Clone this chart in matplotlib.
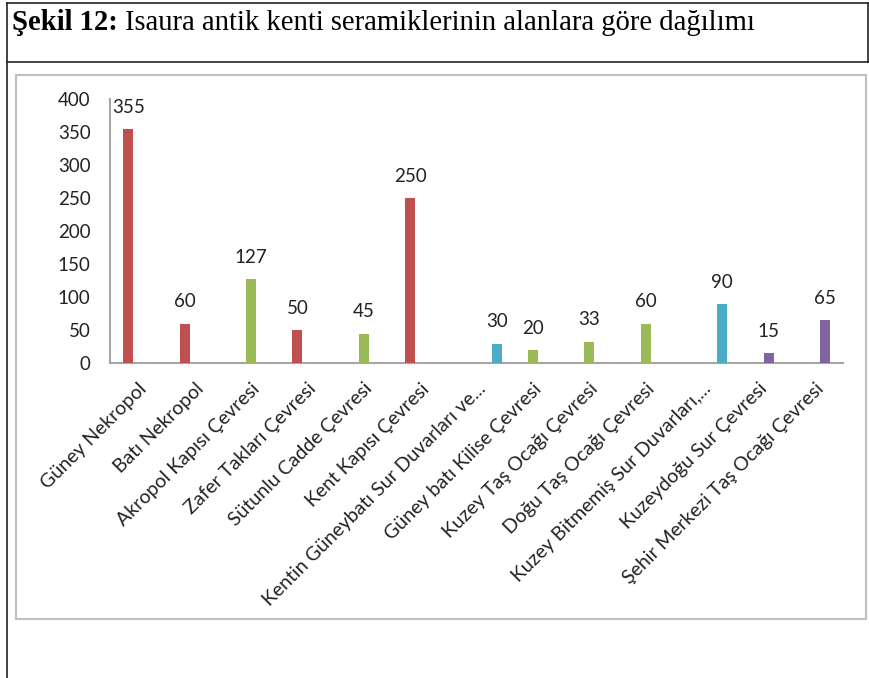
import matplotlib
matplotlib.use("Agg")
import matplotlib.pyplot as plt
from matplotlib.patches import Rectangle
from matplotlib.lines import Line2D
from matplotlib.transforms import ScaledTranslation
import numpy as np

categories = ["Güney Nekropol", "Batı Nekropol", "Akropol Kapısı Çevresi",
              "Zafer Takları Çevresi", "Sütunlu Cadde Çevresi", "Kent Kapısı Çevresi",
              "Kentin Güneybatı Sur Duvarları ve...", "Güney batı Kilise Çevresi",
              "Kuzey Taş Ocağı Çevresi", "Doğu Taş Ocağı Çevresi",
              "Kuzey Bitmemiş Sur Duvarları,...", "Kuzeydoğu Sur Çevresi",
              "Şehir Merkezi Taş Ocağı Çevresi"]
values = [355, 60, 127, 50, 45, 250, 30, 20, 33, 60, 90, 15, 65]
series = ["red", "red", "green", "red", "green", "red", "blue", "green",
          "green", "green", "blue", "purple", "purple"]
yticks = [0, 50, 100, 150, 200, 250, 300, 350, 400]
title_bold = "Şekil 12:"
title_rest = " Isaura antik kenti seramiklerinin alanlara göre dağılımı"

colors = {"red": "#C0504D", "green": "#9BBB59", "purple": "#8064A2", "blue": "#4BACC6"}
slot = {"red": -1, "green": 0, "purple": 1, "blue": 2}
bw = 0.177

fig = plt.figure(figsize=(8.7, 6.78), dpi=100)
W, H = 870, 678

def fx(x): return x / W
def fy(y): return 1 - y / H

# outer frame lines (black)
for (x0, y0, x1, y1) in [(7, 3, 870, 3), (7, 62, 870, 62), (7, 3, 7, 678), (868, 3, 868, 62)]:
    fig.add_artist(Line2D([fx(x0), fx(x1)], [fy(y0), fy(y1)], color="#222222", lw=1.2,
                          transform=fig.transFigure))

# chart area border (grey)
fig.add_artist(Rectangle((fx(16), fy(619)), fx(866.5) - fx(16), fy(75) - fy(619),
                         transform=fig.transFigure, fill=False, edgecolor="#BFBFBF", lw=1.5))

# title
tb = fig.text(fx(12), fy(23), title_bold, fontfamily="Liberation Serif", fontweight="bold",
              fontsize=20.6, va="center", ha="left")
fig.canvas.draw()
bb = tb.get_window_extent()
fig.text(bb.x1 / W, fy(23), title_rest, fontfamily="Liberation Serif",
         fontsize=20.6, va="center", ha="left")

ax = fig.add_axes([fx(110), fy(363.3), fx(843.3) - fx(110), (363.3 - 99.3) / H])
x = np.arange(len(categories))
for i, (v, s) in enumerate(zip(values, series)):
    xp = x[i] + slot[s] * bw
    ax.bar(xp, v, width=bw, color=colors[s], zorder=3)
    ax.text(xp, v + 33, str(v), ha="center", va="center", fontsize=13.5,
            fontfamily="Lato", color="#222222")

ax.set_xlim(-0.5, len(categories) - 0.5)
ax.set_ylim(0, 400)
ax.set_yticks(yticks)
ax.set_yticklabels([str(t) for t in yticks], fontsize=13.5, fontfamily="Lato", color="#222222")
ax.set_xticks(x)
ax.set_xticklabels(categories, rotation=45, ha="right", va="top", rotation_mode="anchor",
                   fontsize=14, fontfamily="Lato", color="#222222")
shift = ScaledTranslation(-5 / 100, -2 / 100, fig.dpi_scale_trans)
for lbl in ax.get_xticklabels():
    lbl.set_transform(lbl.get_transform() + shift)
ax.tick_params(axis="y", length=0, pad=14)
ax.tick_params(axis="x", length=0, pad=12)
for sp in ["top", "right"]:
    ax.spines[sp].set_visible(False)
for sp in ["left", "bottom"]:
    ax.spines[sp].set_color("#A6A6A6")
    ax.spines[sp].set_linewidth(1.5)

fig.savefig("out.png", dpi=100)
